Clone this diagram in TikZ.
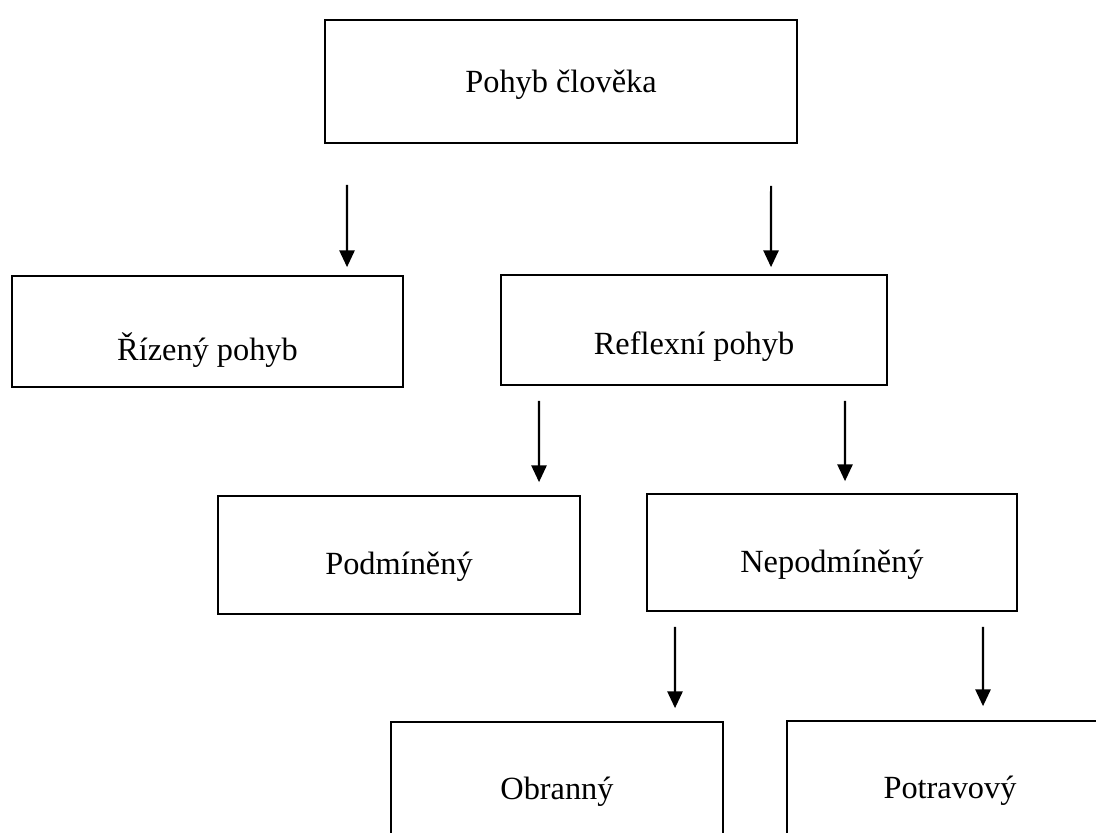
\documentclass[tikz,border=0pt]{standalone}
\usepackage{fontspec}
\setmainfont{Liberation Serif}
\usepackage{tikz}
\usetikzlibrary{arrows.meta,positioning}

\begin{document}
\begin{tikzpicture}[
  x=0.025cm, y=-0.025cm,
  box/.style={rectangle, draw=black, line width=1.2pt, fill=white, inner sep=0pt, align=center,
    font=\fontsize{23}{27}\selectfont, text depth=0.5cm, text height=#1},
  box/.default=1.4cm,
  arrow/.style={-{Triangle[length=0.42cm, width=0.38cm]}, line width=1.5pt, draw=black}
]
\useasboundingbox (0,0) rectangle (1096,833);
\clip (0,0) rectangle (1096,833);
% boxes
\node[box=1.025cm, minimum width=11.8cm, minimum height=3.075cm] (pohyb) at (561,81.5) {Pohyb člověka};
\node[box=1.925cm, minimum width=9.775cm, minimum height=2.775cm] (rizeny) at (207.5,331.5) {Řízený pohyb};
\node[box=1.7cm, minimum width=9.65cm, minimum height=2.75cm] (reflexni) at (694,330) {Reflexní pohyb};
\node[box=1.45cm, minimum width=9.05cm, minimum height=2.95cm] (podmineny) at (399,555) {Podmíněný};
\node[box=1.475cm, minimum width=9.25cm, minimum height=2.925cm] (nepodmineny) at (832,552.5) {Nepodmíněný};
\node[box=1.4cm, minimum width=8.3cm, minimum height=2.95cm] (obranny) at (557,781) {Obranný};
\node[box=1.425cm, minimum width=8.15cm, minimum height=2.95cm] (potravovy) at (950,780) {Potravový};
% arrows
\draw[arrow, shorten <=1.025cm, shorten >=0.2cm] ([xshift=-5.35cm]pohyb.south) -- ([xshift=3.4875cm]rizeny.north);
\draw[arrow, shorten <=1.05cm, shorten >=0.175cm] ([xshift=5.25cm]pohyb.south) -- ([xshift=1.925cm]reflexni.north);
\draw[arrow, shorten <=0.375cm, shorten >=0.325cm] ([xshift=-3.875cm]reflexni.south) -- ([xshift=3.5cm]podmineny.north);
\draw[arrow, shorten <=0.375cm, shorten >=0.3cm] ([xshift=3.775cm]reflexni.south) -- ([xshift=0.325cm]nepodmineny.north);
\draw[arrow, shorten <=0.375cm, shorten >=0.325cm] ([xshift=-3.925cm]nepodmineny.south) -- ([xshift=2.95cm]obranny.north);
\draw[arrow, shorten <=0.375cm, shorten >=0.35cm] ([xshift=3.775cm]nepodmineny.south) -- ([xshift=0.825cm]potravovy.north);
\end{tikzpicture}
\end{document}
